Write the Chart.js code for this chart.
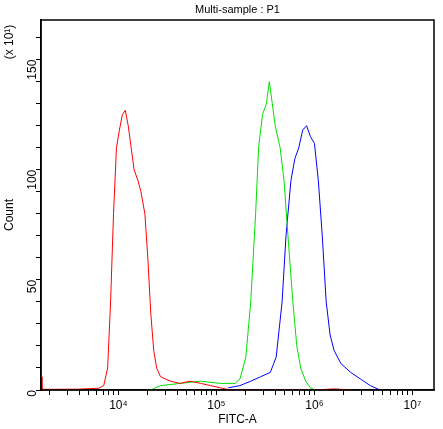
<!DOCTYPE html><html><head><script src="https://cdn.jsdelivr.net/npm/chart.js@4"></script>
<style>body{margin:0;background:#fff}</style></head><body>
<div style="width:443px;height:429px"><canvas id="c"></canvas></div>
<script>
const redExp=[3.21,3.22,3.3,3.6,3.8,3.85,3.89,3.92,3.95,3.98,4.01,4.04,4.07,4.10,4.13,4.16,4.20,4.23,4.27,4.30,4.33,4.36,4.39,4.43,4.53,4.63,4.73,4.84,4.94,5.04,5.14,6.0,6.2,6.4];
const redVal=[6,0.3,0.3,0.4,0.8,2,10,40,80,110,118,125,127,120,110,100,95,90,80,60,35,18,10,6,4,3,4,3,2,1,0,0,0.5,0];
const greenExp=[4.33,4.43,4.63,4.84,5.04,5.19,5.24,5.30,5.35,5.40,5.43,5.47,5.51,5.54,5.57,5.60,5.65,5.69,5.73,5.78,5.82,5.86,5.91,5.96,6.01];
const greenVal=[0,2,3,4,3,3,5,15,40,80,110,125,130,140,130,120,110,95,70,40,20,10,4,1,0];
const blueExp=[5.12,5.24,5.35,5.45,5.55,5.61,5.67,5.71,5.76,5.80,5.84,5.88,5.92,5.96,6.00,6.04,6.08,6.12,6.16,6.20,6.27,6.37,6.47,6.57,6.67];
const blueVal=[1,2,4,6,8,15,40,70,95,105,110,118,120,115,112,95,70,40,25,18,12,8,5,2,0];
const sup={4:'⁴',5:'⁵',6:'⁶',7:'⁷'};
const F='"Liberation Sans", Arial, sans-serif';
const mk=(e,v,c)=>({data:e.map((x,i)=>({x:Math.pow(10,x),y:v[i]})),borderColor:c,borderWidth:1,pointRadius:0,tension:0,fill:false});
const deco={id:'deco',afterDraw(ch){const c=ch.ctx,a=ch.chartArea;c.save();c.strokeStyle='#000';c.lineWidth=1.5;c.strokeRect(a.left,a.top,a.right-a.left,a.bottom-a.top);
c.fillStyle='#000';c.font='11px '+F;c.textAlign='center';c.textBaseline='middle';
c.fillText('Multi-sample : P1',(a.left+a.right)/2,10);c.font='12px '+F;c.fillText('FITC-A',(a.left+a.right)/2,420);
c.translate(10,215);c.rotate(-Math.PI/2);c.fillText('Count',0,0);c.restore();
c.save();c.font='12px '+F;c.textAlign='center';c.textBaseline='middle';c.translate(10,42);c.rotate(-Math.PI/2);c.fillText('(x 10¹)',0,0);c.restore();}};
new Chart(document.getElementById('c'),{type:'line',data:{datasets:[mk(redExp,redVal,'#ff0000'),mk(greenExp,greenVal,'#00e000'),mk(blueExp,blueVal,'#0000ff')]},
options:{animation:false,responsive:true,maintainAspectRatio:false,layout:{padding:{top:20,right:9}},
plugins:{legend:{display:false},tooltip:{enabled:false}},
scales:{x:{type:'logarithmic',min:Math.pow(10,3.21),max:Math.pow(10,7.22),
afterBuildTicks(s){const t=[];for(let e=3;e<=7;e++)for(let m=1;m<=9;m++){const v=m*Math.pow(10,e);if(v>=s.min&&v<=s.max)t.push({value:v});}s.ticks=t;},
afterFit(s){s.height=39;},
grid:{drawOnChartArea:false,color:'#000',tickLength:5,tickWidth:1},border:{color:'#000',width:1.5},
ticks:{autoSkip:false,maxRotation:0,color:'#000',font:{family:F,size:12},padding:3,callback(v){const e=Math.log10(v);return Math.abs(e-Math.round(e))<1e-6?'10'+sup[Math.round(e)]:'';}}},
y:{min:0,max:168,afterBuildTicks(s){const t=[];for(let v=0;v<=160;v+=10)t.push({value:v});s.ticks=t;},afterFit(s){s.width=41;},
grid:{drawOnChartArea:false,color:'#000',tickLength:5},border:{color:'#000',width:1.5},
ticks:{autoSkip:false,color:'#000',font:{family:F,size:12},padding:3,maxRotation:90,minRotation:90,callback(v){return v%50===0?String(v):'';}}}}},plugins:[deco]});
</script></body></html>
